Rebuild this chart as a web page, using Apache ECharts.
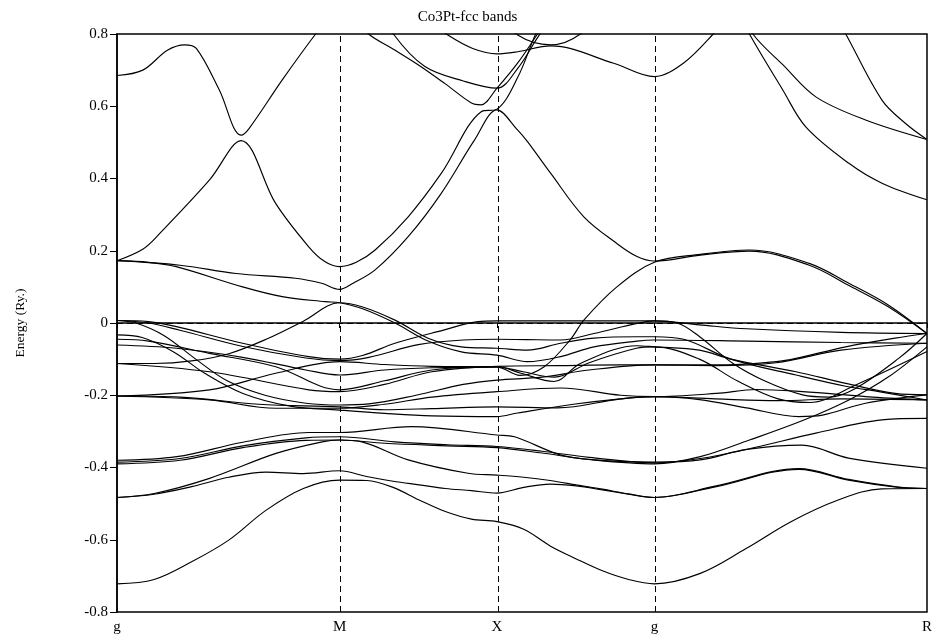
<!DOCTYPE html>
<html><head><meta charset="utf-8">
<script src="https://cdn.jsdelivr.net/npm/echarts@6.0.0/dist/echarts.min.js"></script>
<style>html,body{margin:0;padding:0;background:#fff}#c{width:935px;height:635px}</style>
</head><body><div id="c"></div>
<script>
// high-symmetry points along the k-path (units of 2*pi/a)
const kLabels = ['g', 'M', 'X', 'g', 'R'];
const kTicks = [0, 0.7071, 1.2071, 1.7071, 2.5731];
const fermiLevel = 0;

// bands: [k, E(Ry)]
const bandC1 = [[0,-0.722],[0.118,-0.710],[0.237,-0.661],[0.355,-0.601],[0.474,-0.518],[0.592,-0.458],[0.707,-0.435],[0.793,-0.436],[0.877,-0.455],[0.96,-0.49],[1.043,-0.522],[1.126,-0.543],[1.207,-0.55],[1.292,-0.571],[1.376,-0.617],[1.459,-0.653],[1.542,-0.686],[1.625,-0.71],[1.707,-0.722],[1.853,-0.693],[1.997,-0.625],[2.141,-0.55],[2.285,-0.492],[2.429,-0.459],[2.573,-0.458]];
const bandC2 = [[0,-0.483],[0.118,-0.474],[0.237,-0.453],[0.355,-0.427],[0.474,-0.413],[0.592,-0.417],[0.707,-0.409],[0.793,-0.425],[0.877,-0.438],[0.96,-0.448],[1.043,-0.458],[1.126,-0.464],[1.207,-0.471],[1.292,-0.455],[1.376,-0.446],[1.459,-0.451],[1.542,-0.462],[1.625,-0.474],[1.707,-0.483],[1.904,-0.453],[2.166,-0.405],[2.324,-0.435],[2.482,-0.455],[2.573,-0.458]];
const bandC3 = [[0,-0.483],[0.118,-0.472],[0.294,-0.43],[0.505,-0.361],[0.652,-0.329],[0.707,-0.324],[0.778,-0.329],[0.925,-0.379],[1.115,-0.416],[1.207,-0.421],[1.292,-0.427],[1.376,-0.436],[1.459,-0.448],[1.542,-0.46],[1.625,-0.473],[1.707,-0.483],[1.904,-0.451],[2.166,-0.403],[2.324,-0.433],[2.482,-0.454],[2.573,-0.458]];
const bandC4 = [[0,-0.38],[0.19,-0.37],[0.4,-0.33],[0.609,-0.303],[0.707,-0.303],[0.936,-0.287],[1.207,-0.31],[1.263,-0.315],[1.408,-0.365],[1.516,-0.379],[1.707,-0.385],[1.853,-0.379],[2.0,-0.35],[2.176,-0.338],[2.324,-0.374],[2.573,-0.402]];
const bandC5 = [[0,-0.385],[0.2,-0.375],[0.4,-0.34],[0.6,-0.318],[0.707,-0.315],[0.883,-0.329],[1.05,-0.337],[1.207,-0.342],[1.35,-0.355],[1.5,-0.372],[1.707,-0.387],[1.853,-0.375],[2.0,-0.35],[2.22,-0.305],[2.43,-0.268],[2.573,-0.264]];
const bandC6 = [[0,-0.39],[0.2,-0.38],[0.4,-0.345],[0.6,-0.325],[0.707,-0.324],[0.85,-0.333],[1.05,-0.34],[1.207,-0.345],[1.35,-0.36],[1.5,-0.378],[1.707,-0.39],[1.853,-0.37],[2.009,-0.324],[2.178,-0.27],[2.325,-0.213],[2.451,-0.149],[2.573,-0.066]];
const bandD1 = [[0,0.007],[0.06,0.0],[0.15,-0.035],[0.25,-0.1],[0.35,-0.16],[0.47,-0.2],[0.6,-0.222],[0.707,-0.227],[0.8,-0.224],[0.95,-0.2],[1.1,-0.17],[1.207,-0.158],[1.35,-0.15],[1.5,-0.13],[1.707,-0.116],[1.9,-0.118],[2.094,-0.11],[2.3,-0.075],[2.573,-0.056]];
const bandD2 = [[0,0.007],[0.1,0.004],[0.189,-0.01],[0.399,-0.056],[0.609,-0.093],[0.707,-0.1],[0.78,-0.09],[0.883,-0.056],[1.04,-0.019],[1.146,0.004],[1.207,0.006],[1.4,0.006],[1.6,0.006],[1.707,0.006],[1.85,-0.005],[2.0,-0.016],[2.3,-0.026],[2.573,-0.029]];
const bandD3 = [[0,0.007],[0.1,0.0],[0.2,-0.02],[0.4,-0.065],[0.6,-0.097],[0.707,-0.104],[0.8,-0.095],[0.957,-0.06],[1.1,-0.047],[1.207,-0.045],[1.3,-0.046],[1.409,-0.047],[1.515,-0.029],[1.652,-0.001],[1.707,0.006],[1.78,0.0],[1.851,-0.038],[1.957,-0.112],[2.062,-0.162],[2.178,-0.199],[2.26,-0.205],[2.346,-0.181],[2.483,-0.098],[2.573,-0.029]];
const bandD4 = [[0,-0.033],[0.08,-0.04],[0.18,-0.08],[0.28,-0.14],[0.4,-0.195],[0.55,-0.23],[0.707,-0.241],[0.85,-0.25],[1.0,-0.257],[1.207,-0.259],[1.273,-0.249],[1.45,-0.225],[1.6,-0.21],[1.707,-0.204],[1.9,-0.21],[2.1,-0.215],[2.3,-0.21],[2.573,-0.213]];
const bandD5 = [[0,-0.045],[0.1,-0.05],[0.294,-0.084],[0.504,-0.121],[0.707,-0.185],[0.85,-0.16],[1.0,-0.13],[1.207,-0.121],[1.283,-0.139],[1.388,-0.162],[1.472,-0.112],[1.652,-0.063],[1.707,-0.066],[1.85,-0.075],[1.95,-0.1],[2.157,-0.135],[2.315,-0.167],[2.472,-0.195],[2.573,-0.199]];
const bandD6 = [[0,-0.061],[0.189,-0.07],[0.399,-0.095],[0.6,-0.13],[0.707,-0.144],[0.85,-0.13],[1.0,-0.124],[1.207,-0.122],[1.28,-0.145],[1.357,-0.121],[1.441,-0.045],[1.483,0.008],[1.588,0.1],[1.707,0.168],[1.853,0.19],[2.009,0.202],[2.199,0.165],[2.325,0.11],[2.45,0.05],[2.573,-0.029]];
const bandD7 = [[0,-0.112],[0.118,-0.112],[0.237,-0.105],[0.355,-0.085],[0.474,-0.045],[0.592,0.005],[0.707,0.056],[0.778,0.045],[0.883,0.008],[0.988,-0.042],[1.094,-0.066],[1.207,-0.07],[1.304,-0.075],[1.409,-0.056],[1.515,-0.042],[1.652,-0.038],[1.707,-0.038],[1.8,-0.045],[1.95,-0.1],[2.157,-0.144],[2.315,-0.175],[2.42,-0.19],[2.573,-0.213]];
const bandD8 = [[0,0.1725],[0.1,0.168],[0.188,0.156],[0.399,0.10],[0.525,0.073],[0.662,0.059],[0.707,0.056],[0.778,0.04],[0.883,0.0],[0.988,-0.05],[1.094,-0.08],[1.207,-0.089],[1.304,-0.107],[1.409,-0.093],[1.515,-0.066],[1.652,-0.05],[1.707,-0.047],[2.0,-0.05],[2.3,-0.054],[2.573,-0.056]];
const bandD9 = [[0,-0.112],[0.294,-0.135],[0.609,-0.185],[0.707,-0.19],[0.85,-0.17],[1.0,-0.135],[1.207,-0.12],[1.4,-0.118],[1.6,-0.116],[1.707,-0.116],[1.936,-0.116],[2.094,-0.107],[2.157,-0.098],[2.315,-0.066],[2.472,-0.042],[2.573,-0.029]];
const bandD10 = [[0,-0.202],[0.294,-0.185],[0.504,-0.139],[0.707,-0.107],[0.85,-0.115],[1.0,-0.12],[1.207,-0.121],[1.29,-0.135],[1.39,-0.15],[1.5,-0.11],[1.65,-0.07],[1.707,-0.066],[1.85,-0.1],[1.97,-0.16],[2.1,-0.21],[2.2,-0.22],[2.35,-0.17],[2.573,-0.079]];
const bandD11 = [[0,-0.202],[0.294,-0.213],[0.504,-0.236],[0.707,-0.236],[0.85,-0.225],[1.0,-0.205],[1.207,-0.19],[1.409,-0.18],[1.6,-0.2],[1.707,-0.204],[1.904,-0.195],[2.031,-0.184],[2.178,-0.19],[2.4,-0.205],[2.573,-0.213]];
const bandD12 = [[0,-0.202],[0.2,-0.205],[0.45,-0.225],[0.707,-0.232],[0.85,-0.24],[1.0,-0.237],[1.207,-0.232],[1.4,-0.235],[1.6,-0.21],[1.707,-0.204],[1.85,-0.212],[2.0,-0.235],[2.166,-0.259],[2.241,-0.255],[2.378,-0.222],[2.573,-0.199]];
const bandP1 = [[0,0.1725],[0.2,0.16],[0.378,0.137],[0.567,0.124],[0.65,0.11],[0.707,0.093],[0.75,0.11],[0.82,0.147],[0.925,0.239],[1.03,0.359],[1.136,0.507],[1.207,0.59],[1.273,0.534],[1.304,0.502],[1.378,0.414],[1.483,0.294],[1.588,0.22],[1.652,0.184],[1.707,0.1716],[1.853,0.188],[2.009,0.199],[2.199,0.16],[2.325,0.104],[2.45,0.045],[2.573,-0.029]];
const bandL = [[0,0.1725],[0.083,0.205],[0.136,0.248],[0.294,0.396],[0.394,0.505],[0.504,0.331],[0.609,0.211],[0.66,0.17],[0.707,0.156],[0.76,0.168],[0.82,0.202],[0.925,0.294],[1.03,0.414],[1.157,0.585],[1.207,0.592],[1.273,0.68],[1.33,0.80],[1.4,0.92]];
const bandU1 = [[0,0.685],[0.082,0.70],[0.16,0.755],[0.215,0.77],[0.252,0.76],[0.325,0.645],[0.394,0.52],[0.42,0.539],[0.525,0.673],[0.631,0.80],[0.707,0.88],[0.799,0.80],[0.878,0.758],[0.96,0.713],[1.043,0.662],[1.126,0.609],[1.156,0.604],[1.207,0.65],[1.273,0.72],[1.336,0.80],[1.4,0.88]];
const bandU2 = [[0.8,0.92],[0.878,0.80],[0.978,0.71],[1.1,0.67],[1.207,0.65],[1.273,0.705],[1.336,0.79],[1.4,0.87]];
const bandT3 = [[0.95,0.86],[1.051,0.797],[1.13,0.76],[1.207,0.745],[1.273,0.751],[1.378,0.767],[1.578,0.719],[1.707,0.682],[1.799,0.719],[1.894,0.80],[1.95,0.86]];
const bandT4 = [[1.15,0.9],[1.273,0.797],[1.378,0.77],[1.472,0.80],[1.55,0.88]];
const bandV1 = [[1.95,0.9],[2.009,0.80],[2.115,0.645],[2.188,0.543],[2.325,0.442],[2.43,0.387],[2.573,0.341]];
const bandV2 = [[1.96,0.9],[2.02,0.80],[2.115,0.715],[2.22,0.626],[2.378,0.562],[2.573,0.508]];
const bandV3 = [[2.25,0.9],[2.315,0.80],[2.43,0.617],[2.504,0.553],[2.573,0.508]];

const bands = [bandC1,bandC2,bandC3,bandC4,bandC5,bandC6,bandD1,bandD2,bandD3,bandD4,bandD5,bandD6,bandD7,bandD8,bandD9,bandD10,bandD11,bandD12,bandP1,bandL,bandU1,bandU2,bandT3,bandT4,bandV1,bandV2,bandV3];

const FONT = 'Liberation Serif';
const chart = echarts.init(document.getElementById('c'), null, {renderer: 'canvas'});
const series = bands.map(b => ({
  type: 'line', data: b, smooth: 0.35, symbol: 'none', clip: true, silent: true,
  lineStyle: {color: '#000', width: 1.15}, z: 3
}));
series.push({
  type: 'line', data: [], silent: true,
  markLine: {
    silent: true, symbol: 'none', label: {show: false},
    lineStyle: {color: '#000', width: 1, type: [6, 4]},
    data: [{xAxis: kTicks[1]}, {xAxis: kTicks[2]}, {xAxis: kTicks[3]}, {yAxis: fermiLevel}]
  }
});
chart.setOption({
  animation: false,
  backgroundColor: '#fff',
  title: {text: 'Co3Pt-fcc bands', left: 'center', top: 5,
    textStyle: {fontFamily: FONT, fontSize: 15, fontWeight: 'normal', color: '#000'}},
  grid: {left: 117, right: 3, top: 34, bottom: 23, show: true, borderColor: '#000', borderWidth: 1.5, backgroundColor: 'transparent'},
  xAxis: {
    type: 'value', min: kTicks[0], max: kTicks[4],
    axisLine: {show: true, lineStyle: {color: '#000', width: 1.5}},
    axisTick: {show: true, inside: false, length: 5, customValues: kTicks, lineStyle: {color: '#000'}},
    axisLabel: {show: true, customValues: kTicks, margin: 8, fontFamily: FONT, fontSize: 15, color: '#000',
      formatter: v => { let best = 0; kTicks.forEach((t, i) => { if (Math.abs(t - v) < Math.abs(kTicks[best] - v)) best = i; }); return kLabels[best]; }},
    splitLine: {show: false}
  },
  yAxis: {
    type: 'value', min: -0.8, max: 0.8, interval: 0.2,
    name: 'Energy (Ry.)', nameLocation: 'middle', nameGap: 90, nameRotate: 90,
    nameTextStyle: {fontFamily: FONT, fontSize: 13.5, color: '#000'},
    axisLine: {show: true, lineStyle: {color: '#000', width: 1.5}},
    axisTick: {show: true, inside: false, length: 7, lineStyle: {color: '#000'}},
    axisLabel: {fontFamily: FONT, fontSize: 15, color: '#000', margin: 9,
      formatter: v => Math.abs(v) < 1e-9 ? '0' : v.toFixed(1)},
    splitLine: {show: false}
  },
  series: series
});
</script></body></html>
